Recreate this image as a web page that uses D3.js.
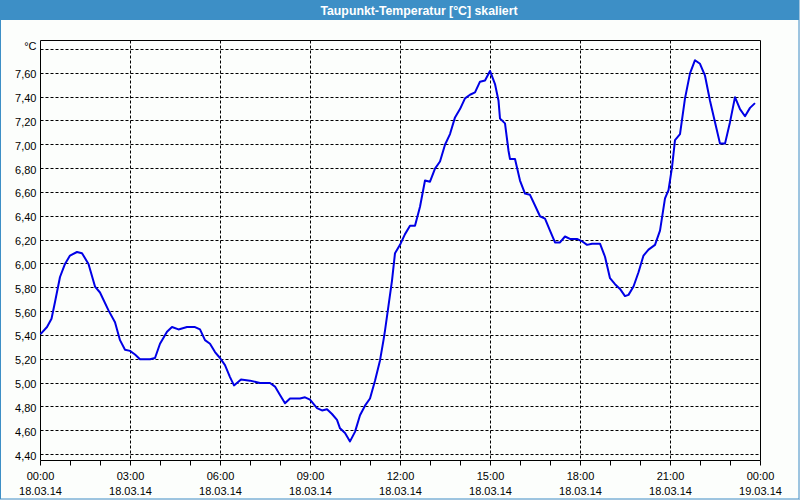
<!DOCTYPE html>
<html>
<head>
<meta charset="utf-8">
<script src="https://cdn.jsdelivr.net/npm/d3@7"></script>
<style>
  html, body { margin: 0; padding: 0; background: #fcfefc; }
  svg { display: block; }
  text { font-family: "Liberation Sans", Arial, sans-serif; }
</style>
</head>
<body>
<svg id="chart" width="800" height="500"></svg>
<script>
const title = "Taupunkt-Temperatur [°C] skaliert";
const unitLabel = "°C";

// time of day in minutes since 18.03.14 00:00
const times = [
  0, 13, 22, 29, 39, 49, 59, 73, 83, 96, 109, 119, 136, 149, 159, 169, 179, 189, 199, 219,
  229, 239, 253, 263, 276, 293, 309, 319, 329, 339, 349, 359, 369, 379, 387, 401, 419, 439, 459, 469,
  479, 489, 499, 519, 529, 539, 553, 563, 573, 583, 593, 599, 609, 619, 629, 639, 649, 659, 669, 679,
  686, 689, 703, 709, 719, 729, 739, 749, 759, 769, 779, 789, 799, 809, 819, 829, 839, 849, 859, 869,
  879, 889, 899, 909, 916, 919, 929, 936, 939, 949, 959, 969, 979, 989, 999, 1009, 1019, 1029, 1039, 1049,
  1059, 1073, 1083, 1093, 1103, 1119, 1129, 1139, 1149, 1159, 1169, 1176, 1186, 1196, 1206, 1216, 1229, 1239, 1249, 1256,
  1263, 1269, 1279, 1289, 1299, 1309, 1319, 1329, 1339, 1349, 1359, 1369, 1379, 1389, 1399, 1409, 1419, 1429
];
const values = [
  5.41, 5.47, 5.54, 5.68, 5.89, 6.00, 6.07, 6.10, 6.09, 6.00, 5.81, 5.76, 5.61, 5.51, 5.36, 5.28, 5.27, 5.24, 5.20, 5.20,
  5.21, 5.33, 5.43, 5.47, 5.45, 5.47, 5.47, 5.45, 5.36, 5.33, 5.26, 5.21, 5.15, 5.05, 4.98, 5.03, 5.02, 5.00, 5.00, 4.97,
  4.90, 4.83, 4.87, 4.87, 4.88, 4.86, 4.79, 4.77, 4.78, 4.74, 4.69, 4.62, 4.58, 4.51, 4.59, 4.73, 4.81, 4.87, 5.02, 5.19,
  5.36, 5.44, 5.86, 6.09, 6.16, 6.25, 6.32, 6.32, 6.48, 6.70, 6.69, 6.80, 6.86, 7.00, 7.09, 7.23, 7.30, 7.39, 7.42, 7.44,
  7.53, 7.54, 7.62, 7.51, 7.37, 7.22, 7.18, 6.95, 6.88, 6.88, 6.70, 6.59, 6.58, 6.49, 6.40, 6.38, 6.28, 6.18, 6.18, 6.23,
  6.21, 6.21, 6.19, 6.16, 6.17, 6.17, 6.06, 5.88, 5.83, 5.79, 5.73, 5.74, 5.81, 5.93, 6.07, 6.12, 6.16, 6.28, 6.55, 6.62,
  6.81, 7.04, 7.09, 7.39, 7.60, 7.71, 7.68, 7.58, 7.37, 7.19, 7.01, 7.01, 7.19, 7.40, 7.30, 7.24, 7.31, 7.35
];

const yTicks = [4.40, 4.60, 4.80, 5.00, 5.20, 5.40, 5.60, 5.80, 6.00, 6.20, 6.40, 6.60, 6.80, 7.00, 7.20, 7.40, 7.60];
const yGrid = yTicks.concat([7.80]);
const xTicks = [0, 180, 360, 540, 720, 900, 1080, 1260, 1440];
const xTickTimes = ["00:00", "03:00", "06:00", "09:00", "12:00", "15:00", "18:00", "21:00", "00:00"];
const xTickDates = ["18.03.14", "18.03.14", "18.03.14", "18.03.14", "18.03.14", "18.03.14", "18.03.14", "18.03.14", "19.03.14"];
const xMinor = d3.range(0, 1441, 60);

(function () {
const svg = d3.select("#chart");
const W = 800, H = 500;
const pL = 40.5, pR = 760.5, pT = 40.5, pB = 460.5;

const x = d3.scaleLinear().domain([0, 1440]).range([pL, pR]);
const y = d3.scaleLinear().domain([4.40, 7.80]).range([454.5, 49.5]);
const snap = v => Math.round(v - 0.5) + 0.5;

// background + frame
svg.append("rect").attr("x", 0).attr("y", 0).attr("width", W).attr("height", H).attr("fill", "#fcfefc");
svg.append("rect").attr("x", 0).attr("y", 0).attr("width", W).attr("height", 20).attr("fill", "#3d8fc6");
svg.append("rect").attr("x", 0.5).attr("y", 0.5).attr("width", W - 1.5).attr("height", H - 1.5)
  .attr("fill", "none").attr("stroke", "#3d8fc6").attr("stroke-width", 1);
svg.append("line").attr("x1", 799.5).attr("x2", 799.5).attr("y1", 0).attr("y2", 500).attr("stroke", "#9fc3de");
svg.append("line").attr("x1", 0).attr("x2", 800).attr("y1", 499.5).attr("y2", 499.5).attr("stroke", "#9fc3de");

svg.append("text").attr("x", 419).attr("y", 14.5).attr("text-anchor", "middle")
  .attr("fill", "#ffffff").attr("font-size", "12.3px").attr("font-weight", "bold").text(title);

// grid
const grid = svg.append("g").attr("stroke", "#000").attr("stroke-width", 1).attr("stroke-dasharray", "3,2");
grid.selectAll("line.h").data(yGrid).join("line").attr("class", "h")
  .attr("x1", pL).attr("x2", pR)
  .attr("y1", d => snap(y(d))).attr("y2", d => snap(y(d)));
grid.selectAll("line.v").data(xTicks.slice(1, -1)).join("line").attr("class", "v")
  .attr("x1", d => snap(x(d))).attr("x2", d => snap(x(d)))
  .attr("y1", pT).attr("y2", pB);

// frame of plot
svg.append("path").attr("stroke", "#000").attr("stroke-width", 1).attr("fill", "none")
  .attr("d", `M${pL},${pB}V${pT}H${pR}V${pB}H${pL}`);

// bottom axis ticks
svg.append("g").attr("stroke", "#000").selectAll("line").data(xMinor).join("line")
  .attr("x1", d => snap(x(d))).attr("x2", d => snap(x(d)))
  .attr("y1", pB).attr("y2", pB + 5);

// x labels
const xl = svg.append("g").attr("font-size", "11px").attr("fill", "#000").attr("text-anchor", "middle");
xl.selectAll("text.t").data(xTicks).join("text").attr("class", "t")
  .attr("x", d => x(d)).attr("y", 480).text((d, i) => xTickTimes[i]);
xl.selectAll("text.d").data(xTicks).join("text").attr("class", "d")
  .attr("x", d => x(d)).attr("y", 494.5).text((d, i) => xTickDates[i]);

// y labels
const fmt = v => d3.format(".2f")(v).replace(".", ",");
const yl = svg.append("g").attr("font-size", "11px").attr("fill", "#000").attr("text-anchor", "end");
yl.selectAll("text").data(yTicks).join("text")
  .attr("x", 36.5).attr("y", d => y(d) + 5).text(d => fmt(d));
yl.append("text").attr("x", 36.5).attr("y", 50).text(unitLabel);

// data line
const data = times.map((t, i) => [t, values[i]]);
svg.append("path").datum(data)
  .attr("fill", "none").attr("stroke", "#0000e6").attr("stroke-width", 2)
  .attr("stroke-linejoin", "round")
  .attr("d", d3.line().x(d => x(d[0])).y(d => y(d[1])));
})();
</script>
</body>
</html>
